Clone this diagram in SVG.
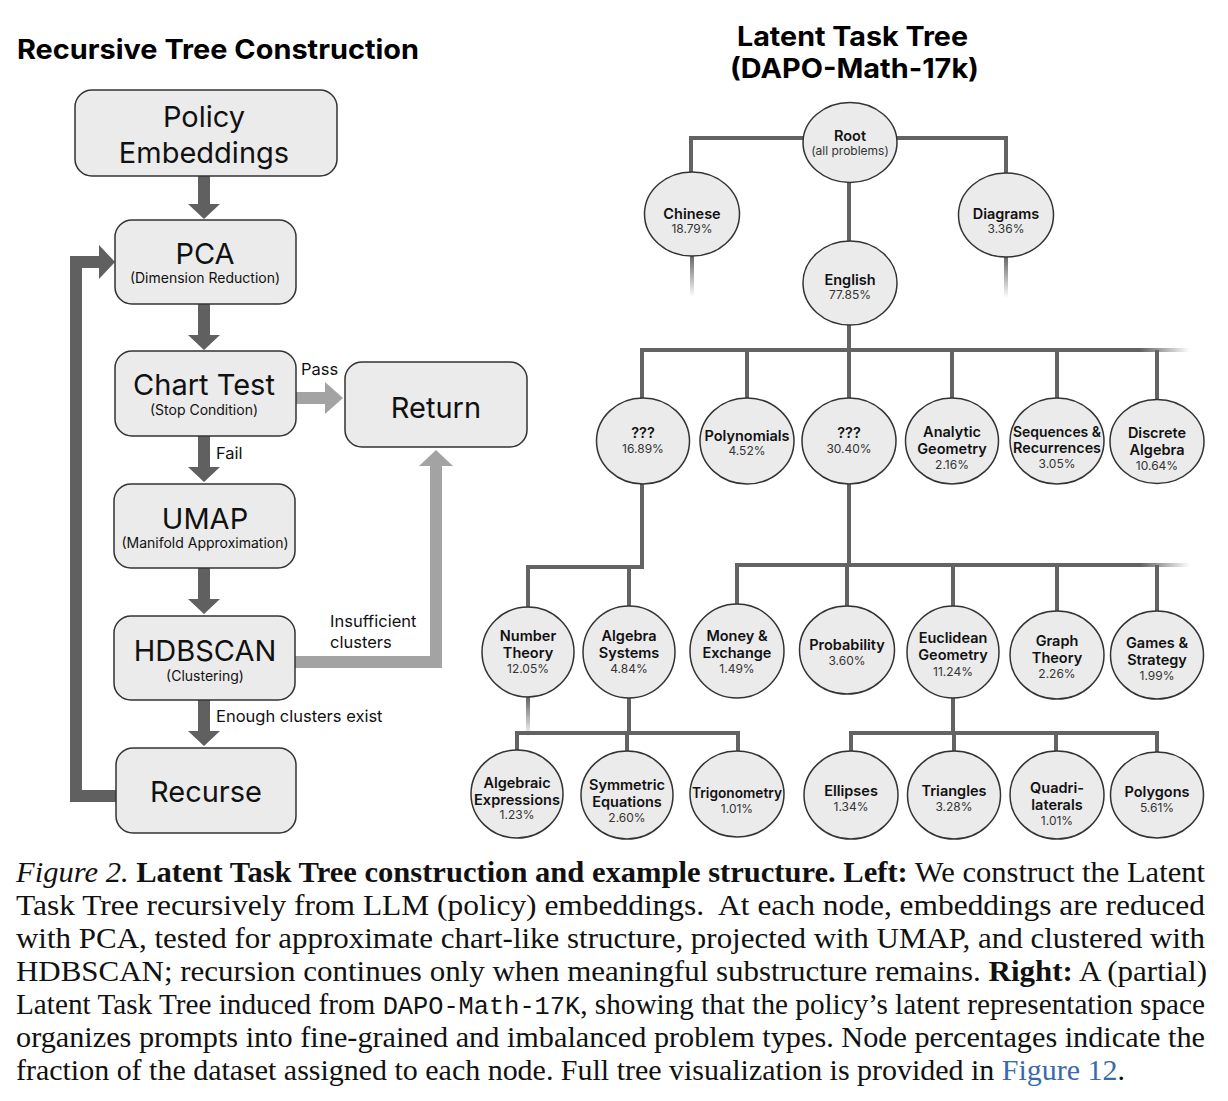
<svg xmlns="http://www.w3.org/2000/svg" width="1228" height="1101" viewBox="0 0 1228 1101">
<defs>
<style>
.box{fill:#ebebeb;stroke:#333;stroke-width:1.5}
.nd{fill:#ebebeb;stroke:#333;stroke-width:1.5}
.big{font-family:Inter,"Liberation Sans",sans-serif;font-size:29px;fill:#111;text-anchor:middle}
.sub{font-family:Inter,"Liberation Sans",sans-serif;font-size:14px;fill:#111;text-anchor:middle}
.lbl{font-family:Inter,"Liberation Sans",sans-serif;font-size:16.5px;fill:#111}
.ttl{font-family:Inter,"Liberation Sans",sans-serif;font-size:27px;font-weight:700;fill:#000}
.nm{font-family:Inter,"Liberation Sans",sans-serif;font-size:14.5px;font-weight:600;fill:#111;text-anchor:middle}
.pc{font-family:Inter,"Liberation Sans",sans-serif;font-size:12px;fill:#333;text-anchor:middle}
.dk{fill:#606060}
.lt{fill:#a3a3a3}
.tl{stroke:#636363;stroke-width:4;fill:none}
.cap{font-family:"Liberation Serif","Times New Roman",serif;font-size:30px;fill:#111}
</style>
<linearGradient id="fv" x1="0" y1="0" x2="0" y2="1"><stop offset="0" stop-color="#636363"/><stop offset="1" stop-color="#636363" stop-opacity="0"/></linearGradient>
<linearGradient id="fh" x1="0" y1="0" x2="1" y2="0"><stop offset="0" stop-color="#636363"/><stop offset="1" stop-color="#636363" stop-opacity="0"/></linearGradient>
</defs>
<rect width="1228" height="1101" fill="#fff"/>

<!-- Left title -->
<text class="ttl" x="17" y="59" textLength="402" lengthAdjust="spacingAndGlyphs">Recursive Tree Construction</text>

<!-- Left connectors -->
<g id="flow-connectors">
<polygon class="dk" points="198,176 210,176 210,204 220,204 204,219 188,204 198,204"/>
<polygon class="dk" points="198,304 210,304 210,335 220,335 204,350 188,335 198,335"/>
<polygon class="dk" points="198,436 210,436 210,467 220,467 204,482 188,467 198,467"/>
<polygon class="dk" points="198,568 210,568 210,599 220,599 204,614 188,599 198,599"/>
<polygon class="dk" points="198,700 210,700 210,731 220,731 204,746 188,731 198,731"/>
<polygon class="dk" points="116,790 116,802 70,802 70,256 99,256 99,245 115,262 99,279 99,268 82,268 82,790"/>
<polygon class="lt" points="296,392 325,392 325,382 343,398 325,414 325,404 296,404"/>
<polygon class="lt" points="295,656 430,656 430,466 419,466 436,450 453,466 442,466 442,668 295,668"/>
<text class="lbl" x="301" y="375">Pass</text>
<text class="lbl" x="216" y="459">Fail</text>
<text class="lbl" x="330" y="627">Insufficient</text>
<text class="lbl" x="330" y="648">clusters</text>
<text class="lbl" x="216" y="722">Enough clusters exist</text>
</g>

<g id="policy"><rect class="box" x="75" y="90" width="262" height="86" rx="17"/>
<text class="big" x="204" y="127" font-size="30">Policy</text><text class="big" x="204" y="163" font-size="30">Embeddings</text></g>
<g id="pca"><rect class="box" x="115" y="220" width="181" height="84" rx="17"/>
<text class="big" x="205" y="264">PCA</text><text class="sub" x="205" y="283">(Dimension Reduction)</text></g>
<g id="chart"><rect class="box" x="115" y="351" width="181" height="85" rx="17"/>
<text class="big" x="204" y="395">Chart Test</text><text class="sub" x="204" y="415">(Stop Condition)</text></g>
<g id="return"><rect class="box" x="345" y="362" width="182" height="85" rx="17"/>
<text class="big" x="436" y="418" font-size="30">Return</text></g>
<g id="umap"><rect class="box" x="114" y="484" width="181" height="84" rx="17"/>
<text class="big" x="205" y="529">UMAP</text><text class="sub" x="205" y="548">(Manifold Approximation)</text></g>
<g id="hdbscan"><rect class="box" x="114" y="616" width="181" height="84" rx="17"/>
<text class="big" x="205" y="661">HDBSCAN</text><text class="sub" x="205" y="681">(Clustering)</text></g>
<g id="recurse"><rect class="box" x="116" y="748" width="180" height="85" rx="17"/>
<text class="big" x="206" y="802" font-size="30">Recurse</text></g>

<!-- Right titles -->
<text class="ttl" x="737" y="46" font-size="26" textLength="231" lengthAdjust="spacingAndGlyphs">Latent Task Tree</text>
<text class="ttl" x="730" y="78" font-size="26" textLength="249" lengthAdjust="spacingAndGlyphs">(DAPO-Math-17k)</text>

<!-- Tree connectors -->
<g id="tree-connectors">
<path class="tl" d="M691,172 V138 H1006 V173"/>
<path class="tl" d="M849,183 V241"/>
<rect x="690" y="255" width="4" height="42" fill="url(#fv)"/>
<rect x="1004" y="256" width="4" height="42" fill="url(#fv)"/>
<path class="tl" d="M849,324 V350"/>
<path class="tl" d="M642,398 V350 H1140 M747,350 V398 M849,350 V398 M952,350 V398 M1057,350 V398 M1157,350 V400"/>
<rect x="1140" y="348" width="50" height="4" fill="url(#fh)"/>
<path class="tl" d="M642,484 V567 H528 V608 M629,567 V606"/>
<path class="tl" d="M849,484 V565 M737,604 V565 H1140 M847,565 V606 M953,565 V608 M1057,565 V611 M1157,565 V611"/>
<rect x="1140" y="563" width="50" height="4" fill="url(#fh)"/>
<rect x="526" y="697" width="4" height="40" fill="url(#fv)"/>
<path class="tl" d="M629,697 V733 M517,752 V733 H738 V752 M627,733 V752"/>
<path class="tl" d="M953,697 V733 M851,752 V733 H1157 V752 M954,733 V752 M1056,733 V752"/>
</g>

<!-- Tree nodes -->
<g id="root"><ellipse class="nd" cx="850" cy="142.5" rx="47" ry="40"/>
<text class="nm" x="850" y="141">Root</text><text class="pc" x="850" y="155">(all problems)</text></g>
<g id="chinese"><ellipse class="nd" cx="692" cy="214" rx="47.5" ry="42"/>
<text class="nm" x="692" y="219">Chinese</text><text class="pc" x="692" y="233">18.79%</text></g>
<g id="diagrams"><ellipse class="nd" cx="1006" cy="215" rx="47.5" ry="42"/>
<text class="nm" x="1006" y="219">Diagrams</text><text class="pc" x="1006" y="233">3.36%</text></g>
<g id="english"><ellipse class="nd" cx="850" cy="283" rx="47" ry="42"/>
<text class="nm" x="850" y="285">English</text><text class="pc" x="850" y="299">77.85%</text></g>

<g id="unk1"><ellipse class="nd" cx="643" cy="441" rx="46.5" ry="43"/>
<text class="nm" x="643" y="438">???</text><text class="pc" x="643" y="453">16.89%</text></g>
<g id="polynomials"><ellipse class="nd" cx="747" cy="441" rx="47" ry="43"/>
<text class="nm" x="747" y="441">Polynomials</text><text class="pc" x="747" y="455">4.52%</text></g>
<g id="unk2"><ellipse class="nd" cx="849" cy="441" rx="47" ry="43"/>
<text class="nm" x="849" y="438">???</text><text class="pc" x="849" y="453">30.40%</text></g>
<g id="analytic"><ellipse class="nd" cx="952" cy="441" rx="46.5" ry="43"/>
<text class="nm" x="952" y="437">Analytic</text><text class="nm" x="952" y="454">Geometry</text><text class="pc" x="952" y="469">2.16%</text></g>
<g id="sequences"><ellipse class="nd" cx="1057" cy="441" rx="47" ry="43"/>
<text class="nm" x="1057" y="437" textLength="88" lengthAdjust="spacingAndGlyphs">Sequences &amp;</text><text class="nm" x="1057" y="453" textLength="88" lengthAdjust="spacingAndGlyphs">Recurrences</text><text class="pc" x="1057" y="468">3.05%</text></g>
<g id="discrete"><ellipse class="nd" cx="1157" cy="441.5" rx="47" ry="42"/>
<text class="nm" x="1157" y="438">Discrete</text><text class="nm" x="1157" y="455">Algebra</text><text class="pc" x="1157" y="470">10.64%</text></g>

<g id="number-theory"><ellipse class="nd" cx="528" cy="652" rx="46" ry="45"/>
<text class="nm" x="528" y="641">Number</text><text class="nm" x="528" y="658">Theory</text><text class="pc" x="528" y="673">12.05%</text></g>
<g id="algebra-systems"><ellipse class="nd" cx="629" cy="652" rx="46" ry="46"/>
<text class="nm" x="629" y="641">Algebra</text><text class="nm" x="629" y="658">Systems</text><text class="pc" x="629" y="673">4.84%</text></g>
<g id="money"><ellipse class="nd" cx="737" cy="651" rx="47" ry="47"/>
<text class="nm" x="737" y="641">Money &amp;</text><text class="nm" x="737" y="658">Exchange</text><text class="pc" x="737" y="673">1.49%</text></g>
<g id="probability"><ellipse class="nd" cx="847" cy="650" rx="47.5" ry="44"/>
<text class="nm" x="847" y="650">Probability</text><text class="pc" x="847" y="665">3.60%</text></g>
<g id="euclidean"><ellipse class="nd" cx="953" cy="652" rx="46" ry="46"/>
<text class="nm" x="953" y="643">Euclidean</text><text class="nm" x="953" y="660">Geometry</text><text class="pc" x="953" y="676">11.24%</text></g>
<g id="graph"><ellipse class="nd" cx="1057" cy="655" rx="47" ry="44"/>
<text class="nm" x="1057" y="646" font-weight="500">Graph</text><text class="nm" x="1057" y="663" font-weight="500">Theory</text><text class="pc" x="1057" y="678">2.26%</text></g>
<g id="games"><ellipse class="nd" cx="1157" cy="655" rx="46.5" ry="44"/>
<text class="nm" x="1157" y="648">Games &amp;</text><text class="nm" x="1157" y="665">Strategy</text><text class="pc" x="1157" y="680">1.99%</text></g>

<g id="algebraic-expr"><ellipse class="nd" cx="517" cy="794" rx="46" ry="44"/>
<text class="nm" x="517" y="788">Algebraic</text><text class="nm" x="517" y="805" textLength="86" lengthAdjust="spacingAndGlyphs">Expressions</text><text class="pc" x="517" y="819">1.23%</text></g>
<g id="symmetric"><ellipse class="nd" cx="627" cy="795" rx="46" ry="44"/>
<text class="nm" x="627" y="790">Symmetric</text><text class="nm" x="627" y="807">Equations</text><text class="pc" x="627" y="822">2.60%</text></g>
<g id="trig"><ellipse class="nd" cx="737" cy="794" rx="47" ry="43"/>
<text class="nm" x="737" y="798" textLength="90" lengthAdjust="spacingAndGlyphs">Trigonometry</text><text class="pc" x="737" y="813">1.01%</text></g>
<g id="ellipses"><ellipse class="nd" cx="851" cy="795" rx="47" ry="44"/>
<text class="nm" x="851" y="796">Ellipses</text><text class="pc" x="851" y="811">1.34%</text></g>
<g id="triangles"><ellipse class="nd" cx="954" cy="795" rx="46.5" ry="44"/>
<text class="nm" x="954" y="796">Triangles</text><text class="pc" x="954" y="811">3.28%</text></g>
<g id="quadrilaterals"><ellipse class="nd" cx="1057" cy="795" rx="47" ry="44"/>
<text class="nm" x="1057" y="793">Quadri-</text><text class="nm" x="1057" y="810">laterals</text><text class="pc" x="1057" y="825">1.01%</text></g>
<g id="polygons"><ellipse class="nd" cx="1157" cy="795" rx="46.5" ry="43"/>
<text class="nm" x="1157" y="797">Polygons</text><text class="pc" x="1157" y="812">5.61%</text></g>

<!-- Caption -->
<g id="caption">
<text class="cap" x="16" y="882" textLength="1189" lengthAdjust="spacingAndGlyphs"><tspan font-style="italic">Figure 2.</tspan> <tspan font-weight="bold">Latent Task Tree construction and example structure. Left:</tspan> We construct the Latent</text>
<text class="cap" x="16" y="915" textLength="1189" lengthAdjust="spacingAndGlyphs">Task Tree recursively from LLM (policy) embeddings.&#160; At each node, embeddings are reduced</text>
<text class="cap" x="16" y="948" textLength="1189" lengthAdjust="spacingAndGlyphs">with PCA, tested for approximate chart-like structure, projected with UMAP, and clustered with</text>
<text class="cap" x="16" y="981" textLength="1191" lengthAdjust="spacingAndGlyphs">HDBSCAN; recursion continues only when meaningful substructure remains. <tspan font-weight="bold">Right:</tspan> A (partial)</text>
<text class="cap" x="16" y="1014" textLength="1189" lengthAdjust="spacingAndGlyphs">Latent Task Tree induced from <tspan font-family="'Liberation Mono',monospace" font-size="26">DAPO-Math-17K</tspan>, showing that the policy’s latent representation space</text>
<text class="cap" x="16" y="1047" textLength="1189" lengthAdjust="spacingAndGlyphs">organizes prompts into fine-grained and imbalanced problem types. Node percentages indicate the</text>
<text class="cap" x="16" y="1080" textLength="1109" lengthAdjust="spacingAndGlyphs">fraction of the dataset assigned to each node. Full tree visualization is provided in <tspan fill="#3a6ba8">Figure 12</tspan>.</text>
</g>
</svg>
